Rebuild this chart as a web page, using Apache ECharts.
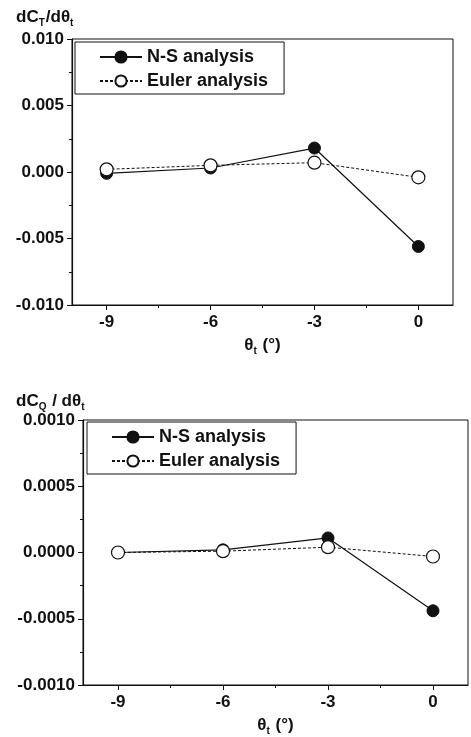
<!DOCTYPE html>
<html>
<head>
<meta charset="utf-8">
<script src="https://cdn.jsdelivr.net/npm/echarts@6/dist/echarts.min.js"></script>
<style>
  html, body { margin: 0; padding: 0; background: #fff; }
  #chart { width: 471px; height: 737px; }
</style>
</head>
<body>
<div id="chart"></div>
<script>
// pitch angle theta_t (deg)
var angles = [-9, -6, -3, 0];
var xTicks = [-9, -6, -3, 0];
var xMinorTicks = [-7.5, -4.5, -1.5];

// dC_T / d theta_t
var ctNS = [-0.0001, 0.0003, 0.0018, -0.0056];
var ctEuler = [0.0002, 0.0005, 0.0007, -0.0004];

// dC_Q / d theta_t
var cqNS = [0.0, 0.00002, 0.00011, -0.00044];
var cqEuler = [0.0, 0.00001, 0.00004, -0.00003];

var seriesNames = ['N-S analysis', 'Euler analysis'];

var font = 'Liberation Sans, Arial, sans-serif';
var black = '#111';

function pairs(xs, ys) {
    return xs.map(function (x, i) { return [x, ys[i]]; });
}

function xAxisMain(gridIndex) {
    return {
        type: 'value',
        gridIndex: gridIndex,
        min: -10,
        max: 1,
        name: '{t|θ}{s|t}{t| (°)}',
        nameLocation: 'middle',
        nameGap: 29,
        nameTextStyle: {
            rich: {
                t: { fontFamily: font, fontWeight: 'bold', fontSize: 17, color: black },
                s: { fontFamily: font, fontWeight: 'bold', fontSize: 10, color: black, padding: [12, 1, 0, 0] }
            }
        },
        axisLine: { onZero: false, lineStyle: { color: black, width: 1.2 } },
        axisTick: { customValues: xTicks, length: 5, lineStyle: { color: black } },
        axisLabel: {
            customValues: xTicks,
            margin: 9,
            fontFamily: font, fontWeight: 'bold', fontSize: 17, color: black
        },
        splitLine: { show: false }
    };
}

function xAxisMinor(gridIndex) {
    return {
        type: 'value',
        gridIndex: gridIndex,
        min: -10,
        max: 1,
        position: 'bottom',
        axisLine: { show: false, onZero: false },
        axisTick: { customValues: xMinorTicks, length: 3, lineStyle: { color: black } },
        axisLabel: { show: false },
        splitLine: { show: false }
    };
}

function yAxis(gridIndex, lim, digits) {
    return {
        type: 'value',
        gridIndex: gridIndex,
        min: -lim,
        max: lim,
        interval: lim / 2,
        position: 'left',
        axisLine: { show: true, onZero: false, lineStyle: { color: black, width: 1.2 } },
        axisTick: { show: true, length: 5, lineStyle: { color: black } },
        minorTick: { show: true, splitNumber: 2, length: 3, lineStyle: { color: black } },
        axisLabel: {
            margin: 8,
            fontFamily: font, fontWeight: 'bold', fontSize: 17, color: black,
            formatter: function (v) { return v.toFixed(digits); }
        },
        splitLine: { show: false }
    };
}

function nsSeries(xi, yi, data) {
    return {
        name: seriesNames[0],
        type: 'line',
        xAxisIndex: xi,
        yAxisIndex: yi,
        data: pairs(angles, data),
        symbol: 'circle',
        symbolSize: 12,
        itemStyle: { color: black, borderColor: black, borderWidth: 1 },
        lineStyle: { color: black, width: 1.2, type: 'solid' },
        z: 3
    };
}

function eulerSeries(xi, yi, data) {
    return {
        name: seriesNames[1],
        type: 'line',
        xAxisIndex: xi,
        yAxisIndex: yi,
        data: pairs(angles, data),
        symbol: 'circle',
        symbolSize: 13,
        itemStyle: { color: '#fff', borderColor: black, borderWidth: 1.2 },
        lineStyle: { color: black, width: 1, type: [3, 2] },
        z: 4
    };
}

function legend(left, top) {
    return {
        data: seriesNames,
        orient: 'vertical',
        left: left,
        top: top,
        selectedMode: false,
        backgroundColor: '#fff',
        borderColor: black,
        borderWidth: 1,
        padding: [6, 16, 4, 24],
        itemGap: 6,
        itemWidth: 42,
        itemHeight: 14,
        textStyle: { fontFamily: font, fontWeight: 'bold', fontSize: 18, color: black }
    };
}

var titleRich = {
    t: { fontFamily: font, fontWeight: 'bold', fontSize: 17, color: black },
    s: { fontFamily: font, fontWeight: 'bold', fontSize: 10, color: black, padding: [12, 1, 0, 0] }
};

var chart = echarts.init(document.getElementById('chart'));
chart.setOption({
    backgroundColor: '#fff',
    animation: false,
    title: [
        { text: '{t|dC}{s|T}{t|/dθ}{s|t}', left: 16, top: 6, padding: 0, textStyle: { rich: titleRich } },
        { text: '{t|dC}{s|Q}{t| / dθ}{s|t}', left: 16, top: 390, padding: 0, textStyle: { rich: titleRich } }
    ],
    legend: [legend(75, 42), legend(87, 422)],
    grid: [
        { left: 72, top: 39, right: 18, height: 266, show: true, borderColor: black, borderWidth: 1, backgroundColor: 'transparent' },
        { left: 83, top: 420, right: 3, height: 268, show: true, borderColor: black, borderWidth: 1, backgroundColor: 'transparent' }
    ],
    xAxis: [xAxisMain(0), xAxisMinor(0), xAxisMain(1), xAxisMinor(1)],
    yAxis: [yAxis(0, 0.010, 3), yAxis(1, 0.0010, 4)],
    series: [
        nsSeries(0, 0, ctNS),
        eulerSeries(0, 0, ctEuler),
        nsSeries(2, 1, cqNS),
        eulerSeries(2, 1, cqEuler)
    ]
});
</script>
</body>
</html>
